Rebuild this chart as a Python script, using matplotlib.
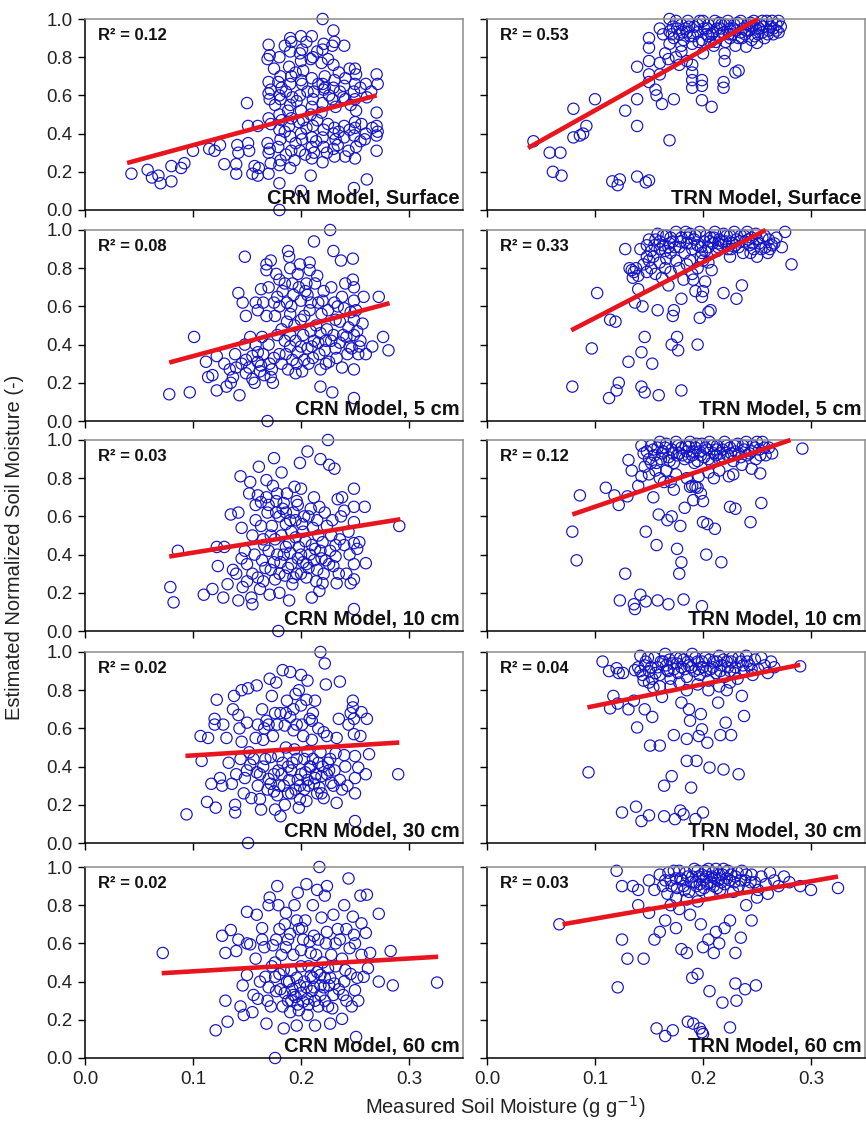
import numpy as np
import matplotlib
matplotlib.use("Agg")
import matplotlib.pyplot as plt

plt.rcParams['font.family'] = ['Liberation Sans', 'DejaVu Sans']

# ---- data: (measured, estimated) pairs ----
crn_surface = np.array([
    (0.043,0.19),(0.058,0.21),(0.062,0.17),(0.068,0.18),(0.070,0.14),(0.080,0.15),(0.080,0.23),(0.089,0.22),
    (0.092,0.245),(0.100,0.31),(0.115,0.32),(0.120,0.31),(0.125,0.34),(0.129,0.24),(0.140,0.19),(0.140,0.24),
    (0.141,0.34),(0.142,0.30),(0.150,0.56),(0.151,0.44),(0.151,0.35),(0.152,0.31),(0.155,0.19),(0.157,0.23),
    (0.160,0.18),(0.161,0.22),(0.160,0.44),
    (0.170,0.865),(0.171,0.81),(0.169,0.79),(0.170,0.67),(0.172,0.63),(0.170,0.61),(0.171,0.58),(0.170,0.48),
    (0.172,0.45),(0.169,0.35),(0.171,0.32),(0.170,0.30),(0.172,0.245),(0.170,0.19),
    (0.180,0.80),(0.181,0.70),(0.179,0.67),(0.182,0.64),(0.180,0.60),(0.181,0.58),(0.180,0.50),(0.182,0.47),
    (0.180,0.42),(0.181,0.37),(0.179,0.33),(0.181,0.26),(0.180,0.235),(0.180,0.14),(0.180,0.0),
    (0.190,0.90),(0.191,0.88),(0.190,0.83),(0.189,0.75),(0.191,0.70),(0.190,0.66),(0.192,0.59),(0.190,0.55),
    (0.191,0.48),(0.189,0.44),(0.190,0.385),(0.191,0.31),(0.190,0.22),
    (0.200,0.91),(0.201,0.84),(0.199,0.82),(0.200,0.78),(0.202,0.73),(0.200,0.68),(0.201,0.66),(0.199,0.60),
    (0.200,0.52),(0.202,0.47),(0.200,0.40),(0.201,0.37),(0.199,0.31),(0.200,0.10),
    (0.210,0.91),(0.211,0.80),(0.209,0.79),(0.210,0.69),(0.211,0.58),(0.210,0.54),(0.209,0.50),(0.211,0.44),
    (0.210,0.38),(0.210,0.33),(0.212,0.30),(0.210,0.27),(0.209,0.18),
    (0.220,1.0),(0.221,0.87),(0.220,0.84),(0.219,0.77),(0.220,0.66),(0.222,0.64),(0.221,0.63),(0.220,0.56),
    (0.219,0.51),(0.221,0.42),(0.220,0.38),(0.221,0.33),(0.220,0.25),
    (0.230,0.94),(0.231,0.88),(0.229,0.86),(0.230,0.76),(0.231,0.68),(0.230,0.64),(0.229,0.58),(0.231,0.43),
    (0.230,0.40),(0.232,0.37),(0.230,0.32),(0.231,0.28),
    (0.240,0.86),(0.241,0.69),(0.240,0.65),(0.239,0.59),(0.241,0.58),(0.240,0.44),(0.240,0.38),(0.241,0.28),
    (0.250,0.74),(0.251,0.71),(0.250,0.66),(0.249,0.62),(0.250,0.58),(0.251,0.52),(0.250,0.46),(0.250,0.43),
    (0.249,0.39),(0.251,0.33),(0.250,0.27),(0.249,0.115),
    (0.260,0.66),(0.261,0.59),(0.260,0.40),(0.259,0.37),(0.261,0.16),
    (0.270,0.71),(0.271,0.66),(0.270,0.51),(0.270,0.44),(0.271,0.41),(0.270,0.39),(0.270,0.31),
    (0.175,0.74),(0.176,0.55),(0.185,0.86),(0.186,0.62),(0.185,0.41),(0.186,0.29),(0.195,0.72),(0.196,0.57),
    (0.195,0.35),(0.194,0.26),(0.205,0.88),(0.206,0.62),(0.205,0.43),(0.204,0.29),(0.215,0.83),(0.216,0.66),
    (0.215,0.47),(0.214,0.36),(0.225,0.79),(0.226,0.60),(0.225,0.45),(0.224,0.30),(0.235,0.72),(0.236,0.62),
    (0.235,0.41),(0.234,0.34),(0.245,0.74),(0.246,0.55),(0.245,0.42),(0.244,0.31),(0.255,0.64),(0.256,0.45),
    (0.255,0.36),(0.265,0.62),(0.266,0.43),(0.212,0.62),(0.222,0.70),(0.232,0.54),(0.188,0.52),(0.198,0.46),
])

trn_surface = np.array([
    (0.043,0.36),(0.058,0.30),(0.068,0.30),(0.061,0.20),(0.069,0.18),(0.080,0.53),(0.100,0.58),(0.080,0.38),
    (0.086,0.39),(0.089,0.40),(0.092,0.44),(0.116,0.15),(0.121,0.13),(0.123,0.16),(0.128,0.52),(0.139,0.44),
    (0.139,0.58),(0.139,0.175),(0.147,0.145),(0.150,0.155),(0.139,0.75),(0.150,0.90),(0.150,0.85),(0.150,0.78),
    (0.150,0.71),(0.150,0.67),(0.156,0.63),(0.157,0.60),(0.162,0.555),(0.160,0.77),(0.160,0.71),(0.169,0.365),
    (0.173,0.58),(0.190,0.72),(0.190,0.68),(0.190,0.64),(0.199,0.68),(0.199,0.65),(0.199,0.575),(0.208,0.54),
    (0.200,0.82),(0.190,0.76),(0.219,0.67),(0.219,0.64),(0.220,0.78),(0.220,0.82),(0.230,0.72),(0.233,0.73),
    (0.240,0.855),(0.250,0.875),(0.165,0.82),(0.168,0.79),(0.175,0.80),(0.180,0.83),(0.185,0.78),(0.178,0.76),
    (0.169,1.0),(0.169,0.935),(0.169,0.87),(0.172,0.96),(0.175,0.99),(0.178,0.92),(0.180,0.97),(0.182,0.89),
    (0.184,0.95),(0.186,0.99),(0.188,0.91),(0.190,0.87),(0.192,0.96),(0.195,0.93),(0.197,0.99),(0.199,0.89),
    (0.201,0.95),(0.203,0.92),(0.205,0.97),(0.207,0.88),(0.209,0.93),(0.211,0.99),(0.213,0.95),(0.215,0.91),
    (0.217,0.97),(0.219,0.93),(0.221,0.88),(0.223,0.99),(0.225,0.95),(0.227,0.92),(0.229,0.97),(0.231,0.94),
    (0.233,0.90),(0.235,0.99),(0.237,0.95),(0.239,0.92),(0.241,0.97),(0.243,0.94),(0.245,0.89),(0.247,0.99),
    (0.249,0.95),(0.251,0.92),(0.253,0.97),(0.255,0.93),(0.257,0.90),(0.259,0.99),(0.261,0.94),(0.263,0.96),
    (0.265,0.92),(0.268,0.97),(0.270,0.93),(0.270,0.99),(0.173,0.90),(0.185,0.93),(0.195,0.97),(0.205,0.91),
    (0.215,0.98),(0.225,0.90),(0.235,0.93),(0.245,0.96),(0.255,0.99),(0.265,0.95),
    (0.171,0.92),(0.176,0.95),(0.181,0.93),(0.187,0.96),(0.191,0.91),(0.196,0.88),(0.200,0.99),(0.204,0.95),
    (0.208,0.92),(0.212,0.88),(0.216,0.95),(0.220,0.97),(0.224,0.92),(0.228,0.95),(0.232,0.98),(0.236,0.90),
    (0.240,0.94),(0.244,0.98),(0.248,0.91),(0.252,0.95),(0.256,0.96),(0.260,0.92),(0.264,0.99),(0.268,0.94),
    (0.272,0.96),(0.180,0.86),(0.210,0.86),(0.230,0.86),(0.160,0.95),(0.163,0.92),
])

crn_5cm = np.array([
    (0.078,0.14),(0.097,0.15),(0.101,0.44),(0.112,0.31),(0.114,0.23),(0.118,0.24),(0.122,0.34),(0.122,0.16),
    (0.129,0.30),(0.131,0.18),(0.135,0.20),(0.137,0.23),(0.139,0.35),(0.142,0.67),(0.143,0.135),(0.146,0.62),
    (0.148,0.86),(0.149,0.55),(0.149,0.32),(0.149,0.25),(0.155,0.34),(0.157,0.20),(0.158,0.62),(0.160,0.58),
    (0.163,0.69),(0.164,0.44),(0.168,0.82),(0.168,0.79),(0.168,0.55),(0.169,0.0),(0.171,0.30),(0.172,0.23),
    (0.174,0.20),(0.177,0.77),(0.178,0.65),(0.180,0.60),(0.180,0.35),(0.185,0.42),(0.188,0.89),(0.189,0.86),
    (0.190,0.80),(0.190,0.56),(0.190,0.45),(0.190,0.39),(0.192,0.32),(0.195,0.25),(0.197,0.77),(0.198,0.70),
    (0.200,0.63),(0.200,0.53),(0.200,0.39),(0.203,0.32),(0.208,0.83),(0.208,0.79),(0.208,0.58),(0.209,0.47),
    (0.210,0.39),(0.212,0.94),(0.215,0.76),(0.217,0.35),(0.218,0.27),(0.218,0.18),(0.220,0.63),(0.223,0.42),
    (0.227,1.0),(0.228,0.70),(0.229,0.15),(0.230,0.89),(0.232,0.53),(0.232,0.38),(0.237,0.84),(0.238,0.65),
    (0.238,0.28),(0.240,0.59),(0.242,0.44),(0.245,0.39),(0.248,0.85),(0.248,0.74),(0.249,0.70),(0.249,0.63),
    (0.249,0.53),(0.249,0.45),(0.249,0.27),(0.249,0.12),(0.254,0.39),(0.257,0.51),(0.258,0.65),(0.260,0.35),
    (0.266,0.39),(0.272,0.65),(0.276,0.44),(0.281,0.37),
    (0.145,0.30),(0.152,0.28),(0.155,0.22),(0.160,0.31),(0.162,0.26),(0.165,0.35),(0.170,0.40),(0.175,0.33),
    (0.178,0.45),(0.182,0.30),(0.185,0.72),(0.183,0.68),(0.187,0.62),(0.193,0.66),(0.195,0.42),(0.197,0.36),
    (0.202,0.45),(0.205,0.72),(0.206,0.66),(0.207,0.30),(0.212,0.42),(0.214,0.50),(0.216,0.62),(0.219,0.56),
    (0.222,0.37),(0.224,0.48),(0.226,0.31),(0.230,0.45),(0.234,0.60),(0.236,0.41),(0.243,0.35),(0.246,0.57),
    (0.252,0.47),(0.255,0.42),(0.180,0.74),(0.172,0.84),(0.175,0.62),(0.192,0.72),(0.166,0.24),(0.158,0.40),
    (0.165,0.62),(0.170,0.70),(0.176,0.55),(0.182,0.48),(0.186,0.35),(0.188,0.27),(0.191,0.60),(0.194,0.50),
    (0.196,0.30),(0.199,0.82),(0.201,0.26),(0.204,0.68),(0.206,0.38),(0.209,0.62),(0.211,0.33),(0.213,0.72),
    (0.216,0.41),(0.218,0.46),(0.221,0.68),(0.223,0.30),(0.225,0.58),(0.228,0.42),(0.231,0.62),(0.233,0.33),
    (0.236,0.52),(0.239,0.45),(0.241,0.72),(0.244,0.49),(0.247,0.38),(0.251,0.58),(0.253,0.35),(0.148,0.40),
    (0.153,0.44),(0.160,0.36),(0.163,0.29),(0.173,0.27),(0.140,0.28),(0.134,0.27),(0.187,0.52),(0.203,0.55),
])

trn_5cm = np.array([
    (0.079,0.18),(0.097,0.38),(0.102,0.67),(0.113,0.12),(0.114,0.53),(0.119,0.52),(0.120,0.16),(0.122,0.20),
    (0.131,0.31),(0.128,0.90),(0.134,0.79),(0.135,0.75),(0.137,0.62),(0.140,0.69),(0.143,0.18),(0.143,0.36),
    (0.144,0.60),(0.146,0.44),(0.146,0.15),(0.153,0.30),(0.154,0.86),(0.156,0.77),(0.158,0.58),(0.159,0.135),
    (0.163,0.97),(0.165,0.80),(0.168,0.71),(0.169,0.93),(0.172,0.55),(0.173,0.58),(0.171,0.40),(0.176,0.44),
    (0.177,0.37),(0.180,0.16),(0.180,0.64),(0.182,0.74),(0.185,0.82),(0.190,0.77),(0.191,0.74),(0.193,0.68),
    (0.195,0.40),(0.197,0.54),(0.199,0.65),(0.200,0.68),(0.202,0.73),(0.205,0.57),(0.207,0.58),(0.208,0.79),
    (0.219,0.67),(0.231,0.64),(0.236,0.71),(0.250,0.86),(0.273,0.91),(0.276,0.99),(0.282,0.82),
    (0.132,0.80),(0.136,0.78),(0.138,0.80),(0.140,0.76),(0.145,0.82),(0.148,0.78),(0.150,0.84),(0.152,0.80),
    (0.160,0.83),(0.162,0.75),(0.166,0.85),(0.170,0.78),(0.175,0.84),(0.178,0.80),(0.188,0.84),(0.195,0.80),
    (0.198,0.86),(0.205,0.83),
    (0.142,0.90),(0.148,0.92),(0.152,0.89),(0.156,0.95),(0.160,0.90),(0.163,0.92),(0.166,0.97),(0.170,0.88),
    (0.172,0.94),(0.175,0.99),(0.178,0.91),(0.180,0.96),(0.183,0.88),(0.185,0.93),(0.188,0.98),(0.190,0.90),
    (0.192,0.95),(0.195,0.92),(0.197,0.99),(0.199,0.88),(0.201,0.94),(0.203,0.97),(0.205,0.91),(0.207,0.96),
    (0.209,0.93),(0.211,0.99),(0.213,0.89),(0.215,0.95),(0.217,0.92),(0.219,0.98),(0.221,0.94),(0.223,0.90),
    (0.225,0.97),(0.227,0.93),(0.229,0.99),(0.231,0.95),(0.233,0.91),(0.235,0.97),(0.237,0.88),(0.239,0.94),
    (0.241,0.99),(0.243,0.92),(0.245,0.96),(0.247,0.90),(0.249,0.98),(0.252,0.93),(0.255,0.96),(0.258,0.91),
    (0.261,0.95),(0.264,0.92),(0.268,0.96),(0.158,0.98),(0.168,0.91),(0.186,0.96),(0.214,0.93),(0.244,0.88),
    (0.260,0.88),(0.148,0.86),
    (0.150,0.95),(0.155,0.92),(0.160,0.94),(0.165,0.89),(0.170,0.96),(0.174,0.91),(0.179,0.94),(0.184,0.99),
    (0.189,0.93),(0.193,0.97),(0.198,0.91),(0.202,0.89),(0.206,0.94),(0.210,0.96),(0.214,0.91),(0.218,0.94),
    (0.222,0.97),(0.226,0.90),(0.230,0.92),(0.234,0.94),(0.238,0.97),(0.242,0.95),(0.246,0.93),(0.250,0.95),
    (0.254,0.90),(0.257,0.97),(0.262,0.90),(0.266,0.93),(0.200,0.84),(0.225,0.86),
])

crn_10cm = np.array([
    (0.079,0.23),(0.082,0.15),(0.086,0.42),(0.110,0.19),(0.118,0.22),(0.122,0.44),(0.123,0.34),(0.128,0.175),
    (0.129,0.44),(0.132,0.245),(0.135,0.61),(0.137,0.32),(0.142,0.62),(0.142,0.16),(0.144,0.81),(0.145,0.54),
    (0.146,0.23),(0.148,0.42),(0.152,0.72),(0.153,0.78),(0.154,0.175),(0.155,0.14),(0.155,0.30),(0.158,0.58),
    (0.161,0.86),(0.163,0.675),(0.164,0.37),(0.165,0.26),(0.165,0.48),(0.168,0.79),(0.169,0.62),(0.171,0.19),
    (0.172,0.32),(0.174,0.76),(0.175,0.905),(0.177,0.68),(0.178,0.40),(0.179,0.0),(0.180,0.20),(0.182,0.83),
    (0.183,0.64),(0.186,0.56),(0.186,0.44),(0.188,0.33),(0.189,0.16),(0.192,0.245),(0.194,0.755),(0.195,0.49),
    (0.197,0.38),(0.199,0.88),(0.200,0.745),(0.201,0.56),(0.205,0.28),(0.206,0.94),(0.208,0.40),(0.210,0.175),
    (0.211,0.54),(0.212,0.70),(0.215,0.32),(0.217,0.21),(0.217,0.65),(0.218,0.90),(0.220,0.465),(0.223,0.37),
    (0.225,1.0),(0.226,0.87),(0.229,0.58),(0.231,0.85),(0.232,0.45),(0.234,0.69),(0.237,0.60),(0.238,0.70),
    (0.242,0.30),(0.245,0.40),(0.249,0.745),(0.249,0.65),(0.249,0.57),(0.249,0.46),(0.249,0.35),(0.249,0.27),
    (0.249,0.115),(0.252,0.43),(0.254,0.465),(0.259,0.65),(0.260,0.355),(0.291,0.55),
    (0.150,0.35),(0.157,0.40),(0.160,0.28),(0.162,0.22),(0.167,0.33),(0.170,0.42),(0.173,0.55),(0.176,0.27),
    (0.178,0.72),(0.181,0.36),(0.184,0.67),(0.185,0.29),(0.187,0.72),(0.190,0.41),(0.191,0.52),(0.193,0.62),
    (0.196,0.30),(0.198,0.44),(0.202,0.36),(0.203,0.60),(0.204,0.47),(0.207,0.33),(0.209,0.64),(0.213,0.43),
    (0.214,0.26),(0.216,0.50),(0.219,0.38),(0.221,0.30),(0.224,0.55),(0.227,0.42),(0.230,0.34),(0.233,0.25),
    (0.236,0.48),(0.240,0.63),(0.180,0.60),(0.168,0.70),(0.158,0.66),(0.196,0.68),
    (0.160,0.71),(0.163,0.55),(0.166,0.45),(0.170,0.66),(0.172,0.50),(0.175,0.36),(0.177,0.62),(0.180,0.30),
    (0.182,0.50),(0.184,0.40),(0.186,0.62),(0.189,0.46),(0.191,0.35),(0.193,0.28),(0.195,0.58),(0.197,0.66),
    (0.200,0.40),(0.202,0.52),(0.205,0.35),(0.207,0.60),(0.210,0.45),(0.212,0.37),(0.215,0.58),(0.218,0.42),
    (0.220,0.25),(0.222,0.62),(0.226,0.35),(0.228,0.50),(0.232,0.39),(0.235,0.30),(0.240,0.45),(0.244,0.52),
    (0.246,0.25),(0.150,0.26),(0.145,0.38),(0.140,0.30),(0.155,0.50),(0.190,0.58),(0.176,0.48),(0.200,0.30),
])

trn_10cm = np.array([
    (0.079,0.52),(0.083,0.37),(0.086,0.71),(0.110,0.75),(0.118,0.71),(0.122,0.66),(0.128,0.30),(0.130,0.705),
    (0.123,0.16),(0.131,0.895),(0.134,0.84),(0.136,0.14),(0.137,0.115),(0.140,0.76),(0.142,0.19),(0.143,0.97),
    (0.143,0.81),(0.145,0.93),(0.147,0.52),(0.147,0.155),(0.154,0.70),(0.156,0.84),(0.157,0.45),(0.158,0.16),
    (0.159,0.61),(0.164,0.78),(0.167,0.58),(0.168,0.14),(0.171,0.60),(0.173,0.74),(0.176,0.43),(0.178,0.30),
    (0.179,0.55),(0.180,0.36),(0.182,0.165),(0.183,0.645),(0.187,0.965),(0.188,0.755),(0.191,0.685),(0.193,0.755),
    (0.196,0.81),(0.198,0.72),(0.199,0.13),(0.200,0.57),(0.200,0.68),(0.203,0.40),(0.204,0.56),(0.211,0.535),
    (0.217,0.36),(0.225,0.65),(0.230,0.64),(0.224,0.81),(0.244,0.57),(0.245,0.85),(0.254,0.67),(0.253,0.825),
    (0.292,0.955),
    (0.146,0.86),(0.150,0.82),(0.152,0.88),(0.160,0.80),(0.166,0.84),(0.170,0.78),(0.175,0.82),(0.185,0.80),
    (0.190,0.76),(0.195,0.75),(0.205,0.83),(0.210,0.80),(0.215,0.84),(0.228,0.82),
    (0.148,0.94),(0.152,0.97),(0.155,0.92),(0.158,0.96),(0.161,0.90),(0.163,0.94),(0.166,0.98),(0.168,0.91),
    (0.171,0.95),(0.173,0.88),(0.175,0.99),(0.178,0.93),(0.180,0.96),(0.183,0.90),(0.185,0.94),(0.188,0.99),
    (0.190,0.92),(0.193,0.96),(0.195,0.89),(0.197,0.94),(0.199,0.98),(0.201,0.91),(0.204,0.95),(0.206,0.99),
    (0.208,0.88),(0.210,0.93),(0.213,0.97),(0.215,0.90),(0.218,0.95),(0.220,0.99),(0.223,0.92),(0.225,0.96),
    (0.228,0.89),(0.230,0.94),(0.232,0.98),(0.235,0.91),(0.238,0.95),(0.240,0.99),(0.243,0.93),(0.246,0.97),
    (0.249,0.90),(0.252,0.95),(0.255,0.99),(0.258,0.92),(0.261,0.96),(0.264,0.93),(0.160,0.99),(0.176,0.92),
    (0.192,0.88),(0.212,0.92),(0.236,0.87),(0.250,0.99),
    (0.150,0.90),(0.154,0.95),(0.157,0.88),(0.162,0.93),(0.165,0.96),(0.169,0.89),(0.172,0.93),(0.177,0.97),
    (0.181,0.92),(0.184,0.97),(0.187,0.91),(0.191,0.94),(0.194,0.98),(0.198,0.92),(0.202,0.96),(0.205,0.90),
    (0.209,0.97),(0.212,0.95),(0.216,0.93),(0.219,0.91),(0.222,0.97),(0.226,0.93),(0.229,0.97),(0.233,0.93),
    (0.237,0.97),(0.241,0.92),(0.245,0.94),(0.248,0.96),(0.253,0.92),(0.257,0.96),
])

crn_30cm = np.array([
    (0.094,0.15),(0.107,0.56),(0.108,0.43),(0.113,0.215),(0.114,0.55),(0.117,0.31),(0.120,0.62),(0.120,0.65),
    (0.121,0.185),(0.122,0.75),(0.125,0.34),(0.127,0.30),(0.131,0.55),(0.136,0.31),(0.137,0.70),(0.138,0.77),
    (0.139,0.20),(0.139,0.16),(0.142,0.67),(0.143,0.60),(0.144,0.44),(0.145,0.80),(0.147,0.26),(0.148,0.34),
    (0.150,0.63),(0.151,0.81),(0.152,0.475),(0.153,0.41),(0.154,0.235),(0.159,0.825),(0.159,0.37),(0.160,0.62),
    (0.160,0.30),(0.162,0.23),(0.163,0.175),(0.164,0.70),(0.165,0.54),(0.167,0.44),(0.168,0.64),(0.170,0.335),
    (0.171,0.86),(0.173,0.77),(0.174,0.56),(0.175,0.27),(0.176,0.175),(0.177,0.84),(0.179,0.38),(0.179,0.455),
    (0.181,0.14),(0.181,0.68),(0.183,0.905),(0.184,0.30),(0.185,0.615),(0.187,0.745),(0.188,0.40),(0.190,0.895),
    (0.191,0.26),(0.193,0.70),(0.194,0.49),(0.196,0.62),(0.197,0.33),(0.198,0.80),(0.198,0.185),(0.199,0.23),
    (0.200,0.88),(0.202,0.56),(0.204,0.37),(0.205,0.75),(0.206,0.85),(0.207,0.30),(0.208,0.65),(0.210,0.54),
    (0.211,0.44),(0.213,0.745),(0.215,0.26),(0.216,0.60),(0.218,1.0),(0.218,0.475),(0.219,0.35),(0.221,0.235),
    (0.222,0.94),(0.223,0.83),(0.224,0.56),(0.225,0.42),(0.228,0.315),(0.231,0.38),(0.233,0.21),(0.235,0.65),
    (0.236,0.845),(0.238,0.28),(0.241,0.40),(0.244,0.62),(0.248,0.745),(0.248,0.71),(0.249,0.65),(0.249,0.57),
    (0.250,0.455),(0.250,0.34),(0.250,0.26),(0.250,0.115),(0.253,0.395),(0.255,0.56),(0.256,0.685),(0.260,0.36),
    (0.261,0.65),(0.263,0.465),(0.290,0.36),(0.151,0.0),
    (0.165,0.40),(0.172,0.31),(0.178,0.25),(0.182,0.36),(0.186,0.50),(0.189,0.33),(0.192,0.42),(0.195,0.28),
    (0.200,0.36),(0.203,0.44),(0.206,0.33),(0.209,0.40),(0.212,0.31),(0.214,0.36),(0.217,0.29),(0.220,0.40),
    (0.156,0.44),(0.170,0.62),(0.176,0.68),(0.190,0.66),(0.200,0.72),(0.210,0.64),(0.226,0.38),(0.232,0.47),
    (0.158,0.55),(0.162,0.36),(0.166,0.60),(0.169,0.28),(0.172,0.45),(0.175,0.36),(0.178,0.62),(0.180,0.30),
    (0.183,0.42),(0.186,0.68),(0.188,0.26),(0.191,0.38),(0.193,0.59),(0.196,0.44),(0.199,0.30),(0.201,0.62),
    (0.203,0.28),(0.206,0.48),(0.208,0.40),(0.211,0.68),(0.213,0.34),(0.216,0.42),(0.219,0.26),(0.221,0.58),
    (0.224,0.36),(0.227,0.44),(0.230,0.30),(0.233,0.55),(0.236,0.33),(0.240,0.46),(0.243,0.30),(0.246,0.68),
    (0.150,0.38),(0.145,0.53),(0.140,0.36),(0.133,0.42),(0.128,0.62),(0.185,0.20),(0.205,0.22),(0.195,0.78),
])

trn_30cm = np.array([
    (0.094,0.37),(0.107,0.95),(0.113,0.90),(0.114,0.705),(0.117,0.77),(0.120,0.915),(0.121,0.73),(0.122,0.89),
    (0.125,0.16),(0.126,0.89),(0.131,0.70),(0.136,0.745),(0.137,0.905),(0.138,0.19),(0.139,0.605),(0.142,0.98),
    (0.143,0.115),(0.145,0.85),(0.146,0.70),(0.150,0.145),(0.151,0.51),(0.153,0.66),(0.154,0.815),(0.160,0.51),
    (0.162,0.765),(0.164,0.30),(0.164,0.14),(0.167,0.905),(0.171,0.35),(0.173,0.565),(0.174,0.125),(0.179,0.17),
    (0.180,0.735),(0.182,0.15),(0.185,0.545),(0.185,0.43),(0.187,0.70),(0.188,0.64),(0.189,0.29),(0.193,0.125),
    (0.194,0.43),(0.196,0.56),(0.198,0.675),(0.199,0.595),(0.200,0.16),(0.204,0.525),(0.206,0.395),(0.214,0.735),
    (0.216,0.565),(0.219,0.385),(0.221,0.63),(0.222,0.80),(0.226,0.565),(0.233,0.36),(0.236,0.77),(0.238,0.665),
    (0.290,0.925),
    (0.140,0.92),(0.144,0.88),(0.147,0.95),(0.150,0.90),(0.153,0.86),(0.155,0.97),(0.158,0.92),(0.160,0.88),
    (0.163,0.95),(0.165,0.99),(0.168,0.90),(0.170,0.86),(0.172,0.94),(0.175,0.97),(0.177,0.89),(0.180,0.92),
    (0.182,0.96),(0.185,0.87),(0.187,0.93),(0.190,0.99),(0.192,0.90),(0.195,0.95),(0.197,0.88),(0.200,0.92),
    (0.202,0.97),(0.205,0.85),(0.207,0.91),(0.210,0.95),(0.212,0.89),(0.215,0.98),(0.217,0.93),(0.220,0.87),
    (0.222,0.95),(0.225,0.90),(0.227,0.97),(0.230,0.92),(0.232,0.86),(0.235,0.95),(0.238,0.90),(0.240,0.98),
    (0.243,0.93),(0.246,0.88),(0.248,0.96),(0.251,0.91),(0.254,0.97),(0.257,0.93),(0.260,0.89),(0.263,0.95),
    (0.266,0.92),(0.170,0.82),(0.185,0.80),(0.195,0.83),(0.178,0.84),(0.205,0.80),(0.215,0.82),(0.225,0.84),
    (0.160,0.82),(0.150,0.84),
    (0.142,0.90),(0.146,0.93),(0.149,0.97),(0.152,0.92),(0.156,0.89),(0.161,0.95),(0.166,0.93),(0.169,0.96),
    (0.173,0.91),(0.176,0.94),(0.179,0.97),(0.183,0.91),(0.186,0.95),(0.189,0.92),(0.193,0.97),(0.196,0.91),
    (0.199,0.95),(0.203,0.90),(0.206,0.96),(0.209,0.92),(0.213,0.95),(0.216,0.90),(0.219,0.96),(0.223,0.92),
    (0.226,0.95),(0.229,0.89),(0.233,0.97),(0.237,0.93),(0.241,0.95),(0.245,0.91),
])

crn_60cm = np.array([
    (0.072,0.55),(0.121,0.145),(0.130,0.30),(0.132,0.19),(0.127,0.64),(0.130,0.55),(0.135,0.67),(0.140,0.56),
    (0.142,0.62),(0.144,0.27),(0.147,0.225),(0.150,0.765),(0.150,0.435),(0.153,0.595),(0.156,0.33),(0.159,0.75),
    (0.160,0.31),(0.164,0.62),(0.164,0.68),(0.167,0.425),(0.168,0.18),(0.170,0.80),(0.171,0.84),(0.172,0.27),
    (0.174,0.59),(0.176,0.425),(0.176,0.0),(0.177,0.35),(0.178,0.90),(0.179,0.80),(0.180,0.675),(0.182,0.54),
    (0.183,0.27),(0.184,0.155),(0.185,0.70),(0.187,0.40),(0.188,0.62),(0.190,0.24),(0.191,0.46),(0.193,0.33),
    (0.194,0.80),(0.196,0.17),(0.197,0.865),(0.198,0.675),(0.199,0.38),(0.200,0.565),(0.202,0.295),(0.204,0.72),
    (0.205,0.91),(0.206,0.225),(0.207,0.48),(0.208,0.61),(0.210,0.35),(0.211,0.80),(0.213,0.17),(0.214,0.54),
    (0.215,0.88),(0.216,0.27),(0.217,1.0),(0.218,0.435),(0.219,0.735),(0.221,0.37),(0.222,0.85),(0.223,0.60),
    (0.224,0.90),(0.225,0.27),(0.225,0.47),(0.227,0.18),(0.228,0.54),(0.230,0.33),(0.231,0.39),(0.234,0.675),
    (0.236,0.62),(0.238,0.205),(0.239,0.33),(0.241,0.46),(0.242,0.675),(0.244,0.94),(0.245,0.575),(0.247,0.27),
    (0.248,0.74),(0.249,0.645),(0.250,0.355),(0.251,0.11),(0.252,0.42),(0.255,0.85),(0.256,0.705),(0.256,0.54),
    (0.258,0.425),(0.260,0.655),(0.261,0.855),(0.262,0.47),(0.264,0.55),(0.272,0.755),(0.272,0.40),(0.283,0.56),
    (0.285,0.38),(0.326,0.395),
    (0.185,0.34),(0.188,0.30),(0.192,0.36),(0.195,0.32),(0.197,0.28),(0.200,0.34),(0.203,0.40),(0.206,0.31),
    (0.209,0.43),(0.212,0.37),(0.215,0.45),(0.218,0.33),(0.222,0.42),(0.226,0.38),(0.180,0.44),(0.176,0.50),
    (0.190,0.65),(0.196,0.72),(0.201,0.68),(0.186,0.76),(0.212,0.64),(0.232,0.48),(0.240,0.40),(0.170,0.37),
    (0.158,0.52),(0.162,0.40),(0.166,0.58),(0.169,0.30),(0.173,0.48),(0.177,0.62),(0.181,0.36),(0.184,0.46),
    (0.186,0.58),(0.189,0.40),(0.191,0.30),(0.193,0.54),(0.196,0.42),(0.198,0.25),(0.200,0.48),(0.202,0.62),
    (0.205,0.37),(0.207,0.28),(0.209,0.55),(0.211,0.42),(0.213,0.30),(0.216,0.62),(0.218,0.38),(0.220,0.50),
    (0.222,0.30),(0.224,0.66),(0.227,0.42),(0.229,0.26),(0.232,0.60),(0.235,0.36),(0.238,0.52),(0.242,0.30),
    (0.246,0.44),(0.250,0.60),(0.253,0.30),(0.150,0.60),(0.146,0.38),(0.155,0.24),(0.240,0.80),(0.230,0.75),
])

trn_60cm = np.array([
    (0.067,0.70),(0.121,0.37),(0.157,0.155),(0.165,0.115),(0.172,0.145),(0.186,0.19),(0.191,0.18),(0.197,0.155),
    (0.199,0.135),(0.200,0.125),(0.206,0.35),(0.218,0.29),(0.225,0.16),(0.230,0.39),(0.231,0.30),(0.239,0.36),
    (0.249,0.38),
    (0.125,0.62),(0.130,0.52),(0.145,0.52),(0.155,0.62),(0.160,0.66),(0.165,0.72),(0.170,0.80),(0.175,0.68),
    (0.180,0.57),(0.185,0.55),(0.190,0.42),(0.195,0.44),(0.200,0.58),(0.205,0.62),(0.210,0.55),(0.215,0.60),
    (0.220,0.68),(0.225,0.72),(0.230,0.55),(0.240,0.80),(0.235,0.63),(0.212,0.66),(0.198,0.70),(0.188,0.75),
    (0.178,0.78),(0.150,0.76),(0.140,0.80),(0.245,0.72),
    (0.120,0.98),(0.125,0.90),(0.135,0.90),(0.140,0.88),(0.150,0.93),(0.155,0.88),(0.160,0.96),(0.163,0.90),
    (0.167,0.86),(0.170,0.93),(0.173,0.98),(0.176,0.89),(0.179,0.94),(0.182,0.90),(0.184,0.97),(0.187,0.87),
    (0.189,0.92),(0.192,0.99),(0.194,0.90),(0.196,0.95),(0.198,0.88),(0.200,0.93),(0.202,0.98),(0.204,0.91),
    (0.206,0.86),(0.208,0.95),(0.210,0.90),(0.212,0.99),(0.214,0.93),(0.216,0.88),(0.218,0.96),(0.220,0.91),
    (0.223,0.98),(0.225,0.93),(0.228,0.87),(0.230,0.95),(0.233,0.90),(0.236,0.98),(0.239,0.93),(0.242,0.89),
    (0.245,0.96),(0.248,0.92),(0.251,0.88),(0.254,0.95),(0.258,0.91),(0.262,0.97),(0.266,0.93),(0.270,0.90),
    (0.275,0.95),(0.280,0.92),(0.290,0.90),(0.300,0.88),(0.325,0.89),(0.260,0.86),(0.250,0.84),(0.185,0.83),
    (0.175,0.84),(0.195,0.82),
    (0.165,0.93),(0.168,0.97),(0.171,0.90),(0.175,0.94),(0.178,0.98),(0.181,0.93),(0.183,0.88),(0.186,0.95),
    (0.190,0.95),(0.193,0.92),(0.195,0.98),(0.197,0.91),(0.199,0.96),(0.201,0.89),(0.203,0.95),(0.205,0.99),
    (0.207,0.92),(0.209,0.97),(0.211,0.94),(0.213,0.89),(0.215,0.96),(0.217,0.92),(0.219,0.99),(0.222,0.94),
    (0.226,0.96),(0.229,0.92),(0.232,0.97),(0.235,0.93),(0.240,0.96),(0.244,0.92),
])

# regression line end points (x0, y0, x1, y1)
crn_fit = [(0.039,0.246,0.270,0.600), (0.078,0.306,0.282,0.617), (0.078,0.390,0.292,0.585),
           (0.093,0.456,0.291,0.526), (0.071,0.444,0.327,0.530)]
trn_fit = [(0.038,0.325,0.251,1.000), (0.078,0.475,0.258,1.000), (0.079,0.610,0.281,1.000),
           (0.093,0.710,0.290,0.933), (0.070,0.700,0.325,0.950)]

crn_r2 = ["0.12", "0.08", "0.03", "0.02", "0.02"]
trn_r2 = ["0.53", "0.33", "0.12", "0.04", "0.03"]
depths = ["Surface", "5 cm", "10 cm", "30 cm", "60 cm"]

crn_data = [crn_surface, crn_5cm, crn_10cm, crn_30cm, crn_60cm]
trn_data = [trn_surface, trn_5cm, trn_10cm, trn_30cm, trn_60cm]

# ---- figure ----
W, H = 866, 1128
fig = plt.figure(figsize=(W / 100, H / 100), dpi=100)

row_bottoms = [210, 421, 631, 843, 1058]   # pixel y of the 0.0 line
row_h = 191
col_lefts = [85, 487]
col_w = 378

blue = "#1414c8"
red = "#e8141e"


def draw_panel(ax, pts, fit, r2, label, first_col, last_row):
    ax.scatter(pts[:, 0], pts[:, 1], s=66, facecolors="none", edgecolors=blue,
               linewidths=0.85, clip_on=False, zorder=2)
    ax.plot([fit[0], fit[2]], [fit[1], fit[3]], color=red, lw=3.3,
            solid_capstyle="butt", zorder=3, clip_on=False)
    ax.set_xlim(0, 0.35)
    ax.set_ylim(0, 1.0)
    ax.set_xticks([0.0, 0.1, 0.2, 0.3])
    ax.set_yticks([0.0, 0.2, 0.4, 0.6, 0.8, 1.0])
    ax.tick_params(direction="out", length=5, width=1, labelsize=13.5,
                   labelcolor="#222222", pad=4)
    if last_row:
        ax.set_xticklabels(["0.0", "0.1", "0.2", "0.3"])
    else:
        ax.set_xticklabels([])
    if first_col:
        ax.set_yticklabels(["0.0", "0.2", "0.4", "0.6", "0.8", "1.0"])
    else:
        ax.set_yticklabels([])
    for s in ["left", "bottom"]:
        ax.spines[s].set_color("black")
        ax.spines[s].set_linewidth(1.1)
    for s in ["top", "right"]:
        ax.spines[s].set_color("#8c8c8c")
        ax.spines[s].set_linewidth(1.1)
    ax.text(0.035, 0.955, "R² = " + r2, transform=ax.transAxes, ha="left", va="top",
            fontsize=12, fontweight="bold", color="#111111")
    ax.text(0.992, 0.012, label, transform=ax.transAxes, ha="right", va="bottom",
            fontsize=14.5, fontweight="bold", color="#111111", zorder=4)


for i in range(5):
    b = 1 - row_bottoms[i] / H
    for j in range(2):
        ax = fig.add_axes([col_lefts[j] / W, b, col_w / W, row_h / H])
        if j == 0:
            draw_panel(ax, crn_data[i], crn_fit[i], crn_r2[i], "CRN Model, " + depths[i], True, i == 4)
        else:
            draw_panel(ax, trn_data[i], trn_fit[i], trn_r2[i], "TRN Model, " + depths[i], False, i == 4)

fig.text(0.017, 0.515, "Estimated Normalized Soil Moisture (-)", rotation=90,
         ha="center", va="center", fontsize=14.5, color="#222222")
fig.text(0.584, 0.019, r"Measured Soil Moisture (g g$^{-1}$)", ha="center", va="center",
         fontsize=14.5, color="#222222")

fig.savefig("out.png", dpi=100)
